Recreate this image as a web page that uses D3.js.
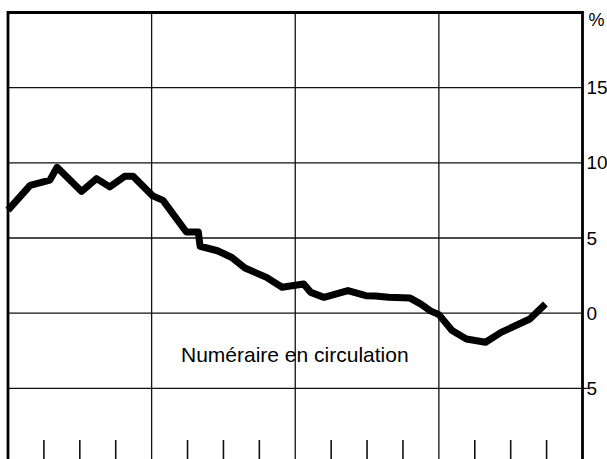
<!DOCTYPE html>
<html>
<head>
<meta charset="utf-8">
<script src="https://cdn.jsdelivr.net/npm/d3@7"></script>
<style>
  html, body { margin: 0; padding: 0; background: #fff; }
  svg { display: block; font-family: "Liberation Sans", Arial, Helvetica, sans-serif; }
</style>
</head>
<body>
<svg id="plot" width="607" height="459"></svg>
<script>
// months from the start of the period (x) and % change (y)
const months = [0, 1.85, 3.5, 4.1, 6.15, 7.4, 8.5, 9.75, 10.45, 12.1, 12.95, 14.9, 15.9, 16.05,
  17.5, 18.7, 19.8, 21.6, 22.9, 24.7, 25.3, 26.4, 28.4, 29.9, 30.7, 31.8, 33.6, 34.5, 35.3,
  36.0, 37.1, 38.3, 39.9, 41.2, 43.6, 44.9];
const values = [6.85, 8.5, 8.85, 9.7, 8.1, 8.95, 8.4, 9.1, 9.1, 7.8, 7.5, 5.4, 5.4, 4.45,
  4.15, 3.7, 3.0, 2.38, 1.72, 1.94, 1.38, 1.05, 1.5, 1.16, 1.14, 1.05, 1.0, 0.6, 0.15,
  -0.1, -1.16, -1.72, -1.94, -1.28, -0.39, 0.61];

const yTicks = [-5, 0, 5, 10, 15];
const yearBreaks = [12, 24, 36];
const quarterTicks = [3, 6, 9, 15, 18, 21, 27, 30, 33, 39, 42, 45];
const seriesLabel = "Numéraire en circulation";

const svg = d3.select("#plot");

const x = d3.scaleLinear().domain([0, 48]).range([8, 582.5]);
const y = d3.scaleLinear().domain([-5, 20]).range([388.3, 12.5]);
const bottom = 470;

// horizontal grid
svg.append("g")
  .selectAll("line")
  .data(yTicks)
  .join("line")
  .attr("x1", x(0))
  .attr("x2", (d) => (d < 0 ? x(48) + 5 : x(48)))
  .attr("y1", (d) => y(d))
  .attr("y2", (d) => y(d))
  .attr("stroke", "#111")
  .attr("stroke-width", 1.3);

// vertical year lines
svg.append("g")
  .selectAll("line")
  .data(yearBreaks)
  .join("line")
  .attr("x1", (d) => x(d))
  .attr("x2", (d) => x(d))
  .attr("y1", y(20))
  .attr("y2", bottom)
  .attr("stroke", "#111")
  .attr("stroke-width", 1.3);

// quarter ticks at the bottom
svg.append("g")
  .selectAll("line")
  .data(quarterTicks)
  .join("line")
  .attr("x1", (d) => x(d))
  .attr("x2", (d) => x(d))
  .attr("y1", 440)
  .attr("y2", bottom)
  .attr("stroke", "#111")
  .attr("stroke-width", 1.6);

// frame: left, top, right
svg.append("path")
  .attr("d", `M${x(0)},${bottom}V${y(20)}H${x(48)}V${bottom}`)
  .attr("fill", "none")
  .attr("stroke", "#000")
  .attr("stroke-width", 2.8);

// right axis labels
const axis = d3.axisRight(y)
  .tickValues(yTicks)
  .tickSize(0)
  .tickPadding(4)
  .tickFormat((d) => Math.abs(d));

svg.append("g")
  .attr("transform", `translate(${x(48)},0)`)
  .call(axis)
  .call((g) => g.select(".domain").remove())
  .selectAll("text")
  .attr("font-size", 19)
  .attr("font-family", "Liberation Sans, Arial, sans-serif")
  .attr("fill", "#000");

svg.append("text")
  .attr("x", x(48) + 6)
  .attr("y", y(20) + 13)
  .attr("font-size", 18)
  .attr("fill", "#000")
  .text("%");

// series
const line = d3.line()
  .x((d, i) => x(months[i]))
  .y((d) => y(d));

svg.append("path")
  .datum(values)
  .attr("d", line)
  .attr("fill", "none")
  .attr("stroke", "#000")
  .attr("stroke-width", 7)
  .attr("stroke-linejoin", "round");

svg.append("text")
  .attr("x", 181)
  .attr("y", 362)
  .attr("font-size", 21)
  .attr("fill", "#000")
  .text(seriesLabel);
</script>
</body>
</html>
